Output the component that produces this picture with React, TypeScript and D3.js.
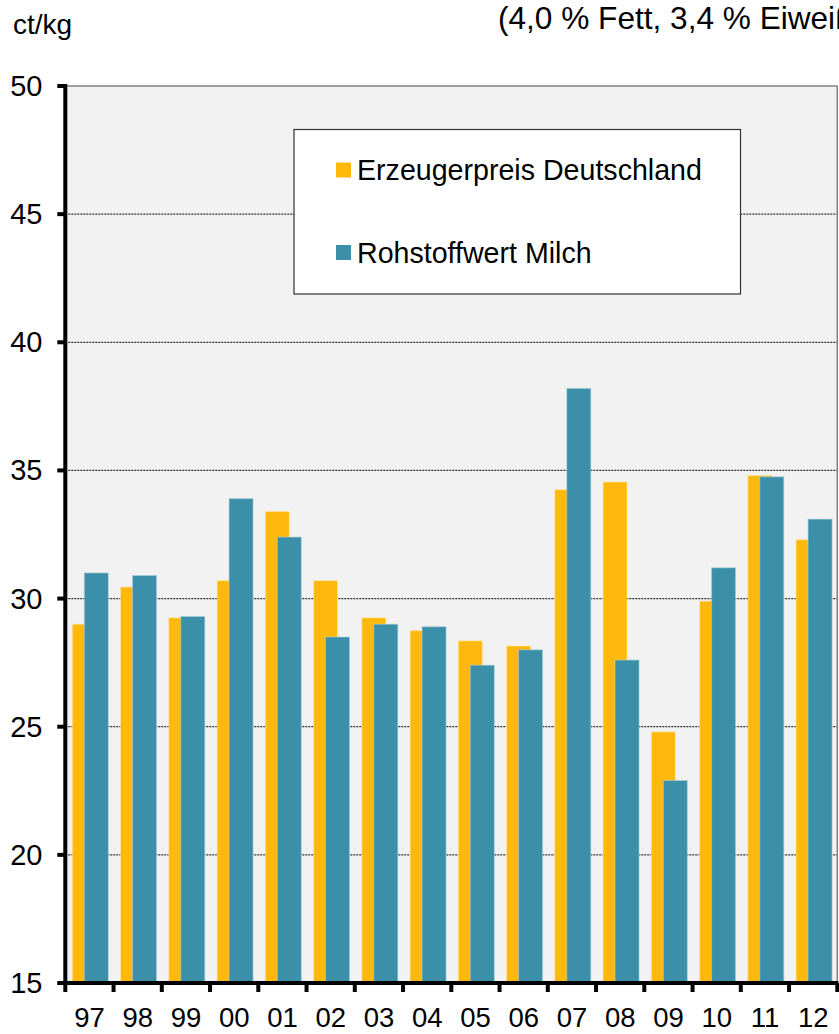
import React from "react";
import * as d3 from "d3";

const years = ["97", "98", "99", "00", "01", "02", "03", "04", "05", "06", "07", "08", "09", "10", "11", "12"];
const erzeugerpreis = [29.0, 30.45, 29.25, 30.7, 33.4, 30.7, 29.25, 28.75, 28.35, 28.15, 34.25, 34.55, 24.8, 29.9, 34.8, 32.3];
const rohstoffwert = [31.0, 30.9, 29.3, 33.9, 32.4, 28.5, 29.0, 28.9, 27.4, 28.0, 38.2, 27.6, 22.9, 31.2, 34.75, 33.1];
const yTicks = [15, 20, 25, 30, 35, 40, 45, 50];
const seriesNames = ["Erzeugerpreis Deutschland", "Rohstoffwert Milch"];

const W = 839;
const H = 1034;
const ORANGE = "#FFB90C";
const TEAL = "#3B8FA8";
const FONT = "'Liberation Sans', Arial, sans-serif";

export default function App() {
  const left = 65.3;
  const right = 837.3;
  const top = 86;
  const bottom = 983;
  const x = d3.scaleBand<string>().domain(years).range([left, right]).padding(0);
  const y = d3.scaleLinear().domain([15, 50]).range([bottom, top]);
  const barW = 24;
  const off = 7;

  return (
    <svg width={W} height={H} style={{ position: "absolute", left: 0, top: 0, background: "#fff" }}>
      <text x={13} y={34} fontFamily={FONT} fontSize={28}>ct/kg</text>
      <text x={498} y={29} fontFamily={FONT} fontSize={31.6}>(4,0 % Fett, 3,4 % Eiweiß)</text>

      <rect x={left} y={top} width={right - left} height={bottom - top} fill="#F2F2F2" />
      {yTicks.filter((t) => t > 15 && t < 50).map((t) => (
        <line key={t} x1={left} x2={right} y1={y(t)} y2={y(t)} stroke="#333" strokeWidth={1.3} strokeDasharray="2 1" />
      ))}
      <line x1={left} x2={right} y1={top} y2={top} stroke="#808080" strokeWidth={1.5} />
      <line x1={right} x2={right} y1={top} y2={bottom} stroke="#808080" strokeWidth={1.5} />

      {years.map((yr, i) => {
        const x0 = (x(yr) as number) + off;
        return (
          <g key={yr}>
            <rect x={x0} y={y(erzeugerpreis[i])} width={barW} height={bottom - y(erzeugerpreis[i])}
              fill={ORANGE} stroke="#FFE9A8" strokeOpacity={0.6} strokeWidth={1} />
            <rect x={x0 + 12} y={y(rohstoffwert[i])} width={barW} height={bottom - y(rohstoffwert[i])}
              fill={TEAL} stroke="#A9CFDA" strokeOpacity={0.6} strokeWidth={1} />
          </g>
        );
      })}

      {/* axes */}
      <line x1={left} x2={left} y1={top - 2} y2={bottom + 2} stroke="#000" strokeWidth={4} />
      <line x1={left - 2} x2={right + 1} y1={bottom} y2={bottom} stroke="#000" strokeWidth={4} />
      {yTicks.map((t) => (
        <g key={t}>
          <line x1={left - 8} x2={left} y1={y(t)} y2={y(t)} stroke="#000" strokeWidth={4} />
          <text x={42.5} y={y(t) + 10} textAnchor="end" fontFamily={FONT} fontSize={29}>{t}</text>
        </g>
      ))}
      {[...years, "end"].map((yr, i) => {
        const xx = left + i * x.bandwidth();
        return <line key={yr} x1={xx} x2={xx} y1={bottom} y2={bottom + 9} stroke="#000" strokeWidth={4} />;
      })}
      {years.map((yr) => (
        <text key={yr} x={(x(yr) as number) + x.bandwidth() / 2} y={1027} textAnchor="middle" fontFamily={FONT} fontSize={27.5}>{yr}</text>
      ))}

      {/* legend */}
      <rect x={294} y={129.5} width={446.5} height={164.5} fill="#fff" stroke="#333" strokeWidth={1.2} />
      {seriesNames.map((name, i) => {
        const ly = i === 0 ? 170 : 252.5;
        return (
          <g key={name}>
            <rect x={336} y={ly - 7.5} width={15} height={15} fill={i === 0 ? ORANGE : TEAL} />
            <text x={357} y={ly + 10} fontFamily={FONT} fontSize={28.6}>{name}</text>
          </g>
        );
      })}
    </svg>
  );
}
